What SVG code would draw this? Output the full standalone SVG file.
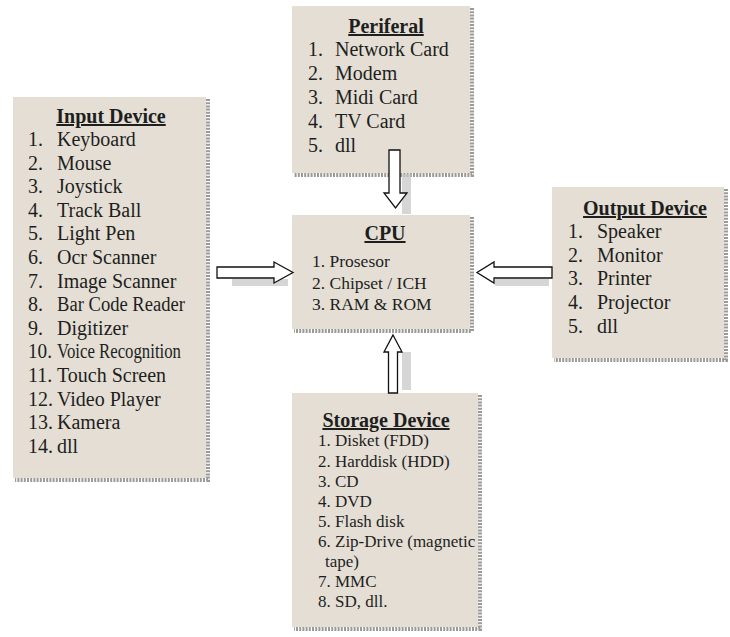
<svg xmlns="http://www.w3.org/2000/svg" width="730" height="637" viewBox="0 0 730 637">
<style>
.box{fill:#e4ded4;}
.shd{fill:none;stroke:#9c9a96;stroke-width:4;stroke-dasharray:2 1.2;}
.t{font-family:"Liberation Serif","Times New Roman",serif;font-size:20px;fill:#1e1e1e;}
.h{font-family:"Liberation Serif","Times New Roman",serif;font-size:20px;font-weight:bold;fill:#1e1e1e;text-anchor:middle;text-decoration:underline;}
.s{font-family:"Liberation Serif","Times New Roman",serif;font-size:17.5px;fill:#1e1e1e;}
.s2{font-family:"Liberation Serif","Times New Roman",serif;font-size:17px;fill:#1e1e1e;}
.arr{fill:#ffffff;stroke:#111111;stroke-width:1.3;stroke-linejoin:miter;}
.ash{fill:#c4c4c4;opacity:0.7;}
</style>
<rect width="730" height="637" fill="#ffffff"/>

<g id="input-device">
<polyline class="shd" points="208,99 208,480 15,480"/>
<rect class="box" x="13" y="97" width="193" height="381"/>
<text class="h" x="111" y="123">Input Device</text>
<g class="t">
<text x="28" y="146">1.</text><text x="57" y="146">Keyboard</text>
<text x="28" y="169.6">2.</text><text x="57" y="169.6">Mouse</text>
<text x="28" y="193.2">3.</text><text x="57" y="193.2">Joystick</text>
<text x="28" y="216.8">4.</text><text x="57" y="216.8">Track Ball</text>
<text x="28" y="240.4">5.</text><text x="57" y="240.4">Light Pen</text>
<text x="28" y="264">6.</text><text x="57" y="264">Ocr Scanner</text>
<text x="28" y="287.6">7.</text><text x="57" y="287.6">Image Scanner</text>
<text x="28" y="311.2">8.</text><text x="57" y="311.2" textLength="128" lengthAdjust="spacingAndGlyphs">Bar Code Reader</text>
<text x="28" y="334.8">9.</text><text x="57" y="334.8">Digitizer</text>
<text x="28" y="358.4" textLength="24" lengthAdjust="spacingAndGlyphs">10.</text><text x="57" y="358.4" textLength="124" lengthAdjust="spacingAndGlyphs">Voice Recognition</text>
<text x="28" y="382">11.</text><text x="57" y="382">Touch Screen</text>
<text x="28" y="405.6">12.</text><text x="57" y="405.6">Video Player</text>
<text x="28" y="429.2">13.</text><text x="57" y="429.2">Kamera</text>
<text x="28" y="452.8">14.</text><text x="57" y="452.8">dll</text>
</g>
</g>

<g id="periferal">
<polyline class="shd" points="472,8 472,175 294,175"/>
<rect class="box" x="292" y="6" width="178" height="167"/>
<text class="h" x="386" y="33">Periferal</text>
<g class="t">
<text x="308" y="56">1.</text><text x="335" y="56">Network Card</text>
<text x="308" y="80">2.</text><text x="335" y="80">Modem</text>
<text x="308" y="104">3.</text><text x="335" y="104">Midi Card</text>
<text x="308" y="128">4.</text><text x="335" y="128">TV Card</text>
<text x="308" y="152">5.</text><text x="335" y="152">dll</text>
</g>
</g>

<g id="cpu">
<polyline class="shd" points="472,217 472,331 294,331"/>
<rect class="box" x="292" y="215" width="178" height="114"/>
<text class="h" x="385" y="240">CPU</text>
<g class="s">
<text x="312" y="267">1. Prosesor</text>
<text x="312" y="289">2. Chipset / ICH</text>
<text x="312" y="310">3. RAM &amp; ROM</text>
</g>
</g>

<g id="output-device">
<polyline class="shd" points="726,189 726,360 554,360"/>
<rect class="box" x="552" y="187" width="172" height="171"/>
<text class="h" x="645" y="215">Output Device</text>
<g class="t">
<text x="568" y="238">1.</text><text x="597" y="238">Speaker</text>
<text x="568" y="262">2.</text><text x="597" y="262">Monitor</text>
<text x="568" y="285">3.</text><text x="597" y="285">Printer</text>
<text x="568" y="309">4.</text><text x="597" y="309">Projector</text>
<text x="568" y="333">5.</text><text x="597" y="333">dll</text>
</g>
</g>

<g id="storage-device">
<polyline class="shd" points="480,395 480,629 294,629"/>
<rect class="box" x="292" y="393" width="186" height="234"/>
<text class="h" x="386" y="427">Storage Device</text>
<g class="s2">
<text x="318" y="446">1. Disket (FDD)</text>
<text x="318" y="467">2. Harddisk (HDD)</text>
<text x="318" y="487">3. CD</text>
<text x="318" y="507">4. DVD</text>
<text x="318" y="527">5. Flash disk</text>
<text x="318" y="547">6. Zip-Drive (magnetic</text>
<text x="325" y="567">tape)</text>
<text x="318" y="587">7. MMC</text>
<text x="318" y="607">8. SD, dll.</text>
</g>
</g>

<g id="connectors">
<rect class="ash" x="402" y="174" width="9" height="40"/>
<polygon class="arr" points="389,150 400,150 400,193 407,193 395.5,208 384,193 389,193"/>
<rect class="ash" x="232" y="279" width="56" height="7"/>
<polygon class="arr" points="217,267 274,267 274,262 293,272.5 274,283 274,278 217,278"/>
<rect class="ash" x="495" y="279" width="54" height="7"/>
<polygon class="arr" points="552,267 494,267 494,262 477,272.5 494,283 494,278 552,278"/>
<rect class="ash" x="402" y="352" width="9" height="38"/>
<polygon class="arr" points="393,335 402,352 397.5,352 397.5,393 388.5,393 388.5,352 384,352"/>
</g>
</svg>
